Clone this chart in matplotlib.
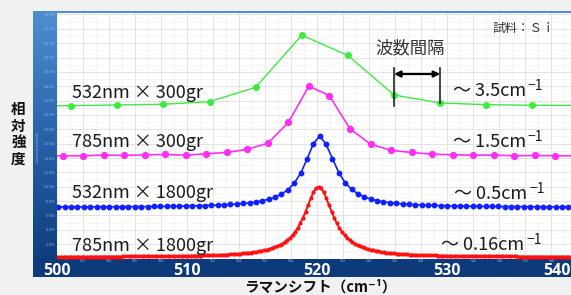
import numpy as np
import matplotlib
matplotlib.use("Agg")
import matplotlib.pyplot as plt
from matplotlib.patches import Rectangle

plt.rcParams['font.family'] = ['Noto Sans CJK JP', 'DejaVu Sans']

# --- data (intensity in counts) ---
# 532nm x 300gr : wide sampling step
green_x0, green_dx = 497.54, 3.545
green_y = [21250, 21290, 21390, 21490, 21850, 23850, 31110, 28290,
           22780, 21670, 21430, 21350, 21320]

# 785nm x 300gr
magenta_x0, magenta_dx = 498.86, 1.577
magenta_y = [14310, 14310, 14310, 14400, 14350, 14450, 14490, 14400, 14590,
             14770, 15210, 16070, 18960, 24030, 22680, 18060, 15930, 15070,
             14770, 14540, 14450, 14400, 14400, 14310, 14350, 14310, 14310]

# 532nm x 1800gr
blue_x0, blue_dx = 500.1, 0.49
blue_y = [7170, 7185, 7175, 7190, 7180, 7200, 7185, 7210, 7195, 7215,
          7205, 7225, 7215, 7240, 7230, 7255, 7250, 7275, 7270, 7300,
          7305, 7335, 7345, 7380, 7400, 7440, 7475, 7530, 7585, 7665,
          7759, 7881, 8041, 8256, 8551, 8969, 9579, 10491, 11863, 13808, 15994,
          17080,
          15900, 13900, 11950, 10550, 9620, 9000, 8580, 8280, 8060, 7900, 7775,
          7680, 7600, 7545, 7490, 7450, 7415, 7390, 7360, 7345, 7320,
          7310, 7290, 7285, 7265, 7260, 7245, 7245, 7230, 7235, 7220,
          7220, 7205, 7210, 7195, 7200, 7185, 7195, 7180]

# 785nm x 1800gr
red_x0, red_dx = 500.1, 0.2
red_y = [245, 246, 246, 247, 248, 249, 250, 252, 253, 254,
         255, 256, 258, 259, 260, 262, 263, 265, 266, 268,
         270, 271, 273, 275, 277, 279, 281, 284, 286, 288,
         291, 294, 296, 299, 302, 305, 309, 312, 316, 320,
         324, 328, 332, 337, 342, 347, 353, 359, 365, 371,
         375, 382, 390, 398, 407, 416, 425, 436, 447, 459,
         471, 485, 500, 516, 533, 551, 572, 594, 617, 644,
         672, 704, 738, 776, 819, 866, 918, 977, 1043, 1118,
         1202, 1298, 1408, 1535, 1681, 1850, 2048, 2281, 2555, 2881,
         3267, 3728, 4275, 4922, 5675, 6527, 7454, 8384, 9210, 9790,
         10000,
         9790, 9210, 8384, 7454, 6527, 5675, 4922, 4275, 3728, 3267,
         2881, 2555, 2281, 2048, 1850, 1681, 1535, 1408, 1298, 1202,
         1118, 1043, 977, 918, 866, 819, 776, 738, 704, 672,
         648, 620, 597, 575, 554, 536, 519, 503, 488, 474,
         462, 450, 439, 428, 419, 410, 401, 393, 385, 378,
         374, 368, 362, 356, 350, 345, 340, 335, 331, 327,
         323, 319, 315, 312, 308, 305, 302, 299, 297, 294,
         291, 289, 287, 284, 282, 280, 278, 276, 274, 273,
         271, 269, 268, 266, 265, 263, 262, 261, 259, 258,
         257, 256, 255, 253, 252, 251, 250]

series = [
    ("532nm × 300gr", "〜 3.5cm", green_x0, green_dx, green_y, "#3cec3c", 4.0, 1.0),
    ("785nm × 300gr", "〜 1.5cm", magenta_x0, magenta_dx, magenta_y, "#ff2df5", 4.2, 1.2),
    ("532nm × 1800gr", "〜 0.5cm", blue_x0, blue_dx, blue_y, "#1020ff", 3.2, 1.2),
    ("785nm × 1800gr", "〜 0.16cm", red_x0, red_dx, red_y, "#ff1010", 2.0, 1.4),
]
# label positions (left x, centre y) in data units
label_pos = [(501.15, 23050), (501.15, 16230), (501.15, 9120), (501.15, 1740)]
res_pos = [(530.4, 23330), (530.4, 16230), (530.5, 8980), (529.5, 1880)]

fig = plt.figure(figsize=(5.71, 2.95), dpi=100)
fig.patch.set_facecolor("#f1f1f1")

# blue frame with vertical gradient
bg = fig.add_axes([33 / 571, 18 / 295, 1 - 33 / 571, 266 / 295])
grad = np.linspace(0, 1, 256).reshape(-1, 1)
cmap = matplotlib.colors.LinearSegmentedColormap.from_list("frame", ["#0c3978", "#2560a8", "#4d8fd2"])
bg.imshow(grad, aspect="auto", cmap=cmap, origin="lower", extent=[0, 1, 0, 1])
bg.add_patch(Rectangle((0, 0), 1, 19 / 266, color="#0d3a7a", zorder=3))
bg.set_axis_off()

ax = fig.add_axes([57 / 571, 36.5 / 295, 514 / 571, 245.5 / 295])
ax.set_facecolor("white")
ax.set_xlim(500, 539.5)
ax.set_ylim(0, 34200)

for name, res, x0, dx, ys, color, ms, lw in series:
    xs = x0 + dx * np.arange(len(ys))
    ax.plot(xs, ys, color=color, lw=lw, marker="o", ms=ms, mec=color, mfc=color, zorder=3)

minor_lbl = [v for v in range(502, 540, 2)]
ax.set_xticks(minor_lbl)
ax.set_xticks(np.arange(500, 540, 1), minor=True)
ax.set_yticks(np.arange(2000, 34001, 2000))
ax.set_yticks(np.arange(1000, 34001, 1000), minor=True)
# the bold labels sit on top of the multiples of ten
ax.set_xticklabels(["" if v % 10 == 0 else str(v) for v in minor_lbl])
ax.set_yticklabels(["{:,}".format(v).replace(",", " ") for v in range(2000, 34001, 2000)])
ax.tick_params(axis="both", which="both", length=0, labelsize=2.6, labelcolor="#9db8dd", pad=2)
ax.tick_params(axis="x", pad=0.3)
ax.grid(True, which="major", color="#e3e3e3", lw=0.7)
ax.grid(True, which="minor", color="#f2f2f2", lw=0.5)
ax.set_axisbelow(True)
for s in ax.spines.values():
    s.set_visible(False)

# big bold x labels in the dark band
for v in [500, 510, 520, 530, 540]:
    xv = min(v, 539.5)
    ax.text(xv, -0.0652, str(v), transform=ax.get_xaxis_transform(), ha="right" if v == 540 else "center",
            va="baseline", fontsize=11.5, fontweight="bold", color="white", family="Open Sans")

fig.text(38 / 571, 0.5, "Intensity (counts)", rotation=90, fontsize=2.6, color="#9db8dd",
         ha="center", va="center")

for (name, res, x0, dx, ys, color, ms, lw), (lx, ly), (rx, ry) in zip(series, label_pos, res_pos):
    ax.text(lx, ly, name, fontsize=13, color="#1a1a1a", va="center", ha="left")
    t = ax.text(rx, ry, res, fontsize=13, color="#1a1a1a", va="center", ha="left")
    ax.annotate("−1", xy=(1, 1), xycoords=t, xytext=(1.5, 2), textcoords="offset points",
                ha="left", va="top", fontsize=10, color="#1a1a1a")

# wavenumber spacing marker between two green points
gx = green_x0 + green_dx * np.arange(len(green_y))
xa, xb = gx[8], gx[9]
ax.plot([xa, xa], [21240, 26540], color="#222222", lw=1.2, zorder=4)
ax.plot([xb, xb], [21660, 26540], color="#222222", lw=1.2, zorder=4)
ax.annotate("", xy=(xa, 25700), xytext=(xb, 25700),
            arrowprops=dict(arrowstyle="<|-|>", color="black", lw=1.6, mutation_scale=9, shrinkA=0, shrinkB=0))
ax.text(524.5, 29320, "波数間隔", fontsize=12.5, color="#333333", va="center", ha="left")
ax.text(533.5, 32110, "試料：Ｓｉ", fontsize=9, color="#333333", va="center", ha="left")

fig.text(18.5 / 571, 0.546, "相\n対\n強\n度", fontsize=10.5, fontweight="bold", ha="center",
         va="center", linespacing=1.05, color="#111111")
fig.text(320 / 571, 8 / 295, "ラマンシフト（cm⁻¹）", fontsize=10.5, fontweight="bold",
         ha="center", va="center", color="#111111")

fig.savefig("out.png", dpi=100, facecolor=fig.get_facecolor())
